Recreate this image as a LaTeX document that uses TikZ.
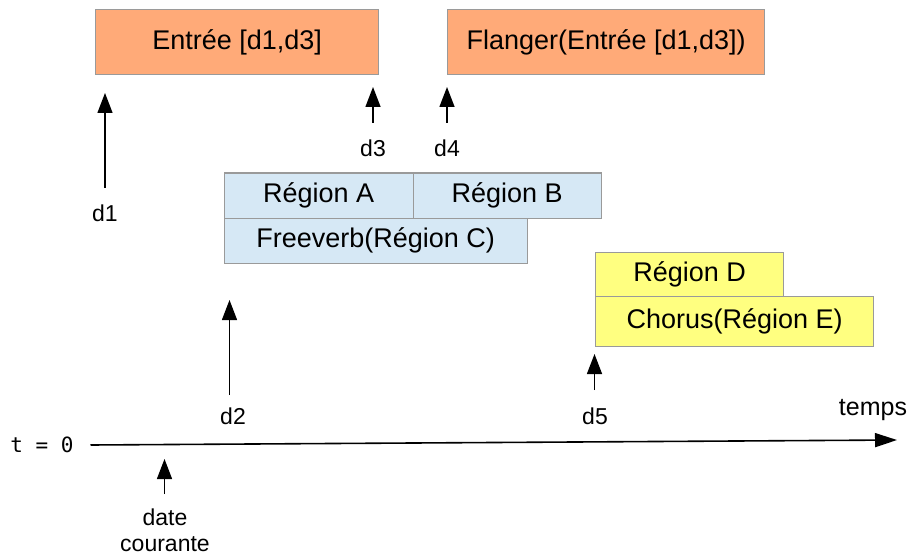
\documentclass[tikz,border=0pt]{standalone}
\usepackage{fontspec}
\setmainfont{Liberation Sans}
\newfontfamily\monofont{DejaVu Sans Mono}
\usetikzlibrary{arrows.meta}
\definecolor{salmon}{HTML}{FFAA78}
\definecolor{lblue}{HTML}{D6E8F5}
\definecolor{lyellow}{HTML}{FFFF80}
\definecolor{bordergray}{HTML}{9A9A9A}
\begin{document}
\begin{tikzpicture}[x=1pt,y=-1pt,
  box/.style={draw=bordergray, line width=1.3pt, rectangle, anchor=north west, inner sep=0pt,
    font=\fontsize{27}{32}\selectfont},
  lbl/.style={font=\fontsize{23}{27}\selectfont, inner sep=0pt},
  arr/.style={line width=1.4pt, -{Triangle[length=20pt,width=15pt]}}]
\useasboundingbox (0,0) rectangle (907,556);

% top boxes
\node[box, fill=salmon, minimum width=283pt, minimum height=65pt] (entree) at (95,9) {Entrée [d1,d3]};
\node[box, fill=salmon, minimum width=317pt, minimum height=65pt] (flanger) at (447,9) {Flanger(Entrée [d1,d3])};

% blue regions
\node[box, fill=lblue, minimum width=189pt, minimum height=45pt] (ra) at (223.5,172.5) {Région A};
\node[box, fill=lblue, minimum width=188pt, minimum height=45pt] (rb) at (412.5,172.5) {Région B};
\node[box, fill=lblue, minimum width=303pt, minimum height=45pt] (rc) at (223.5,217.5) {Freeverb(Région C)};

% yellow regions
\node[box, fill=lyellow, minimum width=188pt, minimum height=44pt] (rd) at (595,252) {Région D};
\node[box, fill=lyellow, minimum width=278pt, minimum height=50pt] (re) at (595,296) {Chorus(Région E)};

% labels
\node[lbl] (l1) at (105,213) {d1};
\node[lbl] (l3) at (373,148) {d3};
\node[lbl] (l4) at (447,148) {d4};
\node[lbl] (l2) at (233,416) {d2};
\node[lbl] (l5) at (595,416) {d5};
\node[lbl, font=\fontsize{25}{29}\selectfont] (temps) at (873,410) {temps};
\node[inner sep=0pt, font=\monofont\fontsize{21}{25}\selectfont] (t0) at (42,445) {t = 0};
\node[lbl, align=center, font=\fontsize{23}{27}\selectfont, text depth=0pt] (date) at (165,530)
  {date\\[-1pt]courante};

% arrow coordinates
\coordinate (a1s) at (105,188); \coordinate (a1t) at (105,93);
\coordinate (a3s) at (373,123); \coordinate (a3t) at (373,87);
\coordinate (a4s) at (447,123); \coordinate (a4t) at (447,87);
\coordinate (a2s) at (229.5,395); \coordinate (a2t) at (229.5,300);
\coordinate (a5s) at (594.5,390); \coordinate (a5t) at (594.5,354);
\coordinate (dcs) at (164.5,494); \coordinate (dct) at (164.5,459);
\coordinate (tls) at (90.5,445); \coordinate (tlt) at (897,440);

\draw[arr] (a1s) -- (a1t);
\draw[arr] (a3s) -- (a3t);
\draw[arr] (a4s) -- (a4t);
\draw[arr] (a2s) -- (a2t);
\draw[arr] (a5s) -- (a5t);
\draw[arr] (dcs) -- (dct);
\draw[line width=1.6pt, -{Triangle[length=22pt,width=14pt]}] (tls) -- (tlt);
\end{tikzpicture}
\end{document}
